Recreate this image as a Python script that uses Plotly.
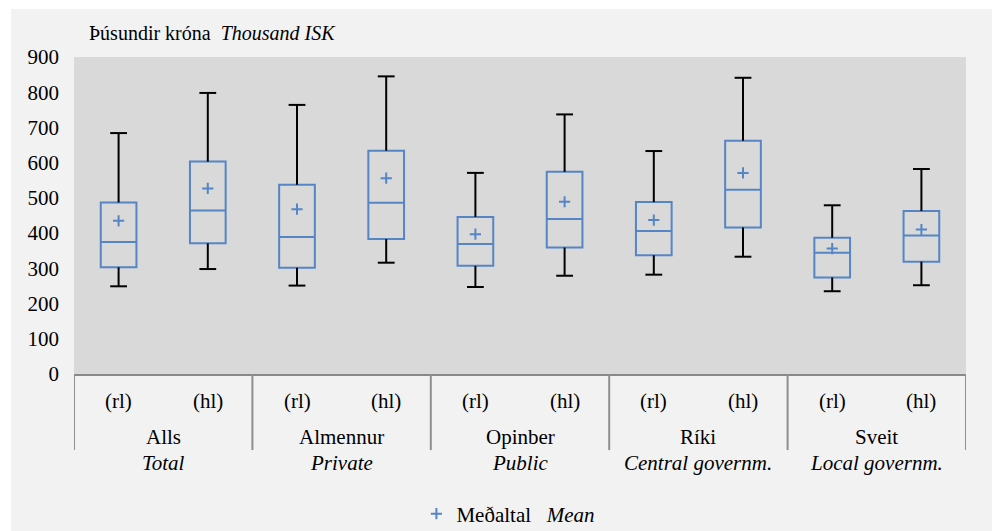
import plotly.graph_objects as go

groups = ["Alls", "Almennur", "Opinber", "Ríki", "Sveit"]
groups_en = ["Total", "Private", "Public", "Central governm.", "Local governm."]
subs = ["(rl)", "(hl)"]

# box statistics, thousand ISK, in order Alls rl, Alls hl, Almennur rl, ...
low = [249, 298, 251, 316, 247, 279, 282, 333, 235, 252]
q1 = [303, 371, 302, 383, 307, 359, 337, 416, 274, 319]
median = [375, 464, 389, 486, 369, 440, 406, 523, 344, 393]
q3 = [487, 603, 537, 634, 446, 574, 488, 662, 387, 463]
high = [684, 798, 764, 845, 571, 737, 633, 841, 479, 582]
mean = [435, 527, 468, 556, 397, 489, 437, 571, 356, 410]

pos = list(range(len(q1)))
BLUE = "#5585c5"
FONT = "Liberation Serif, Times New Roman, serif"
FS = 21

fig = go.Figure()

# whiskers
wx, wy = [], []
for i in pos:
    wx += [i, i, None, i, i, None]
    wy += [q3[i], high[i], None, low[i], q1[i], None]
fig.add_trace(go.Scatter(x=wx, y=wy, mode="lines", line=dict(color="black", width=2),
                         showlegend=False, hoverinfo="skip"))
fig.add_trace(go.Scatter(x=pos + pos, y=high + low, mode="markers",
                         marker=dict(symbol="line-ew", size=12, line=dict(color="black", width=2)),
                         showlegend=False, hoverinfo="skip"))

fig.add_trace(go.Box(
    x=pos, q1=q1, median=median, q3=q3, lowerfence=q1, upperfence=q3,
    width=0.4, line=dict(color=BLUE, width=2), fillcolor="rgba(0,0,0,0)",
    boxpoints=False, showlegend=False
))

fig.add_trace(go.Scatter(
    x=pos, y=mean, mode="markers", name="Meðaltal&nbsp;&nbsp;&nbsp;<i>Mean</i>",
    marker=dict(symbol="cross-thin", size=8, line=dict(color=BLUE, width=2))
))

shapes = [
    dict(type="rect", xref="paper", yref="paper", x0=-0.0706, x1=1.0325, y0=-0.7, y1=1.1514,
         fillcolor="#f2f2f2", line_width=0, layer="below"),
    dict(type="rect", xref="paper", yref="paper", x0=0, x1=1, y0=0, y1=1,
         fillcolor="#d9d9d9", line_width=0, layer="below"),
]
for b in [-0.5, 1.5, 3.5, 5.5, 7.5, 9.5]:
    shapes.append(dict(type="line", xref="x", yref="paper", x0=b, x1=b, y0=0, y1=-0.24,
                       line=dict(color="#8f8f8f", width=2)))

annotations = [dict(xref="paper", yref="paper", x=0.0146, y=1.076, xanchor="left", yanchor="middle",
                    text="Þúsundir króna&nbsp;&nbsp;<i>Thousand ISK</i>", showarrow=False,
                    font=dict(family=FONT, size=20, color="black"))]
lab = dict(xref="x", yref="paper", xanchor="center", yanchor="middle", showarrow=False)
for g, name in enumerate(groups):
    for s, sub in enumerate(subs):
        annotations.append(dict(lab, x=2 * g + s, y=-0.084, text=sub,
                                font=dict(family=FONT, size=FS, color="black")))
    annotations.append(dict(lab, x=2 * g + 0.5, y=-0.2, text=name,
                            font=dict(family=FONT, size=FS, color="black")))
    annotations.append(dict(lab, x=2 * g + 0.5, y=-0.282, text="<i>" + groups_en[g] + "</i>",
                            font=dict(family=FONT, size=FS, color="black")))

fig.update_layout(
    width=1000, height=531,
    margin=dict(l=66, r=42, t=49, b=165, autoexpand=False),
    paper_bgcolor="white", plot_bgcolor="#d9d9d9",
    font=dict(family=FONT, size=FS, color="black"),
    shapes=shapes, annotations=annotations,
    showlegend=True,
    legend=dict(orientation="h", x=0.487, xanchor="center", yref="container", y=0.047,
                yanchor="middle", bgcolor="rgba(0,0,0,0)", itemwidth=30,
                font=dict(family=FONT, size=FS, color="black")),
    xaxis=dict(range=[-0.5, 9.5], showticklabels=False, showgrid=False, zeroline=False,
               showline=True, linecolor="#898989", linewidth=2),
    yaxis=dict(range=[0, 900], dtick=100, showgrid=False, zeroline=False, ticks="",
               tickfont=dict(family=FONT, size=FS, color="black"), ticklabelstandoff=14),
)

fig.write_html("out.html")
